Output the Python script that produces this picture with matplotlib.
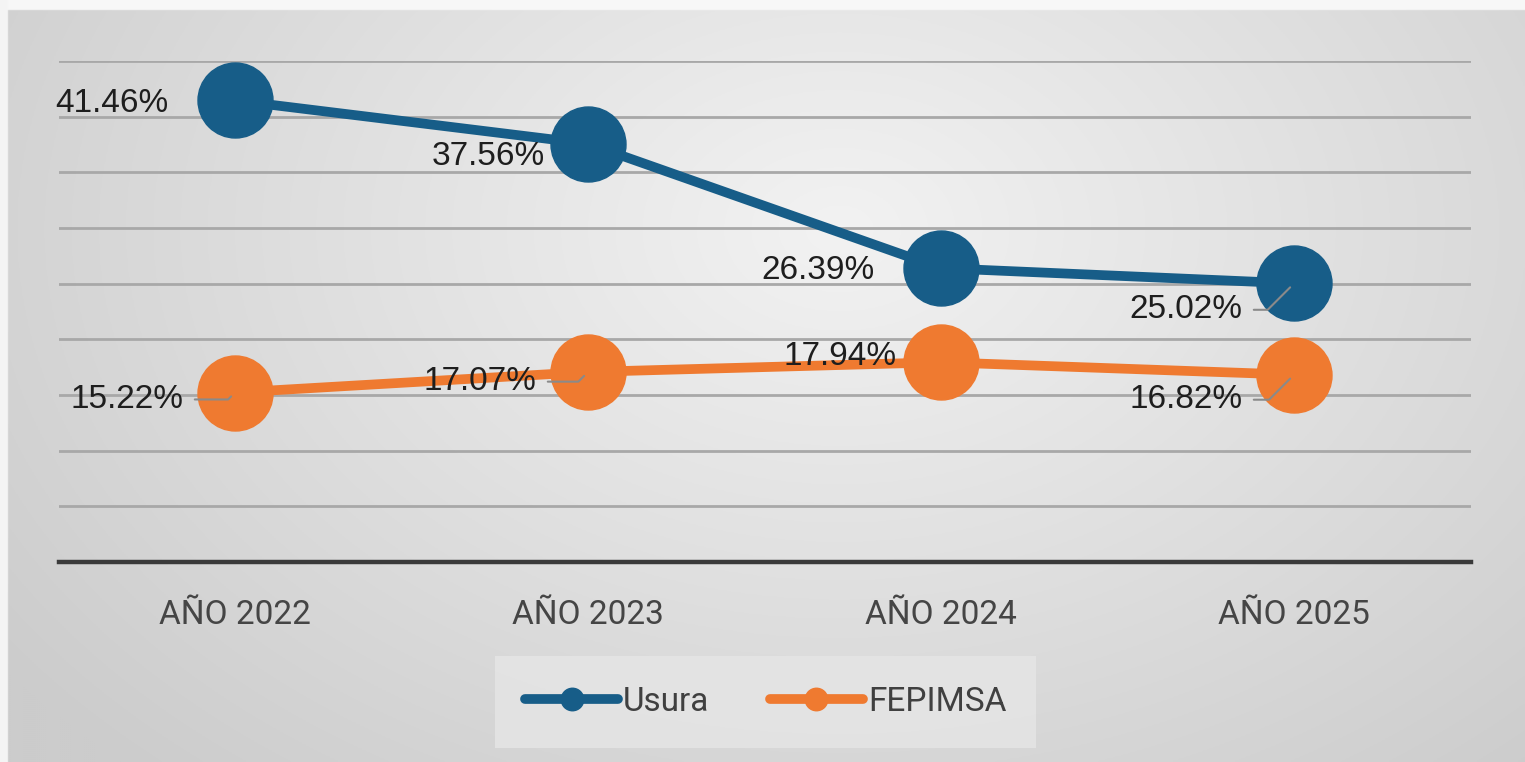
import numpy as np
import matplotlib
matplotlib.use("Agg")
import matplotlib.pyplot as plt

categories = ["AÑO 2022", "AÑO 2023", "AÑO 2024", "AÑO 2025"]
usura = [41.46, 37.56, 26.39, 25.02]
fepimsa = [15.22, 17.07, 17.94, 16.82]
usura_labels = ["41.46%", "37.56%", "26.39%", "25.02%"]
fepimsa_labels = ["15.22%", "17.07%", "17.94%", "16.82%"]

BLUE = "#175d88"
ORANGE = "#ef7a30"

fig = plt.figure(figsize=(15.25, 7.62), dpi=100)

# background gradient panel
bg = fig.add_axes([0, 0, 1, 1], zorder=-10)
h, w = 381, 762
yy, xx = np.mgrid[0:h, 0:w]
cx, cy = w * 0.55, h * 0.3
d = np.sqrt(((xx - cx) / w) ** 2 + ((yy - cy) / h) ** 2 * 0.5)
val = 0.95 - 0.22 * d
val = np.clip(val, 0.8, 0.95)
img = np.dstack([val, val, val])
img[:5, :, :] = 0.97
img[:, :4, :] = 0.96
bg.imshow(img, aspect="auto", extent=[0, 1, 0, 1], origin="upper")
bg.set_xlim(0, 1)
bg.set_ylim(0, 1)
bg.axis("off")

ax = fig.add_axes([0.0384, 0.2625, 0.9259, 0.6575])
ax.patch.set_alpha(0)
x = np.arange(len(categories))

ax.plot(x, usura, color=BLUE, lw=7, marker="o", ms=54, solid_capstyle="round",
        label="Usura", zorder=3)
ax.plot(x, fepimsa, color=ORANGE, lw=7, marker="o", ms=54, solid_capstyle="round",
        label="FEPIMSA", zorder=3)

ax.set_xlim(-0.5, 3.5)
ax.set_ylim(0, 45)
ax.set_yticks(np.arange(5, 46, 5))
ax.yaxis.grid(True, color="#a8a8a8", lw=2)
ax.set_axisbelow(True)
for s in ["top", "right", "left"]:
    ax.spines[s].set_visible(False)
ax.spines["bottom"].set_color("#3a3a3a")
ax.spines["bottom"].set_linewidth(3.2)
ax.tick_params(axis="y", left=False, labelleft=False)
ax.tick_params(axis="x", bottom=False, pad=23)
ax.set_xticks(x)
ax.set_xticklabels(categories, fontsize=24, color="#454545", family="Roboto")

lab_font = dict(fontsize=24, color="#1e1e1e", family="Liberation Sans",
                ha="right", va="center")
usura_off = [(-48, -2), (-31, -9), (-48, -2), (-37, -19)]
fep_off = [(-37, -5), (-37, -7), (-32, 4), (-37, -18)]
usura_lead = [False, False, False, True]
fep_lead = [True, True, False, True]


def label(xi, yi, txt, off, lead):
    ax.annotate(txt, (xi, yi), xytext=off, textcoords="offset points", zorder=5,
                **lab_font)
    if lead:
        ax.annotate("", (xi, yi), xytext=(off[0] + 8, off[1]),
                    textcoords="offset points", zorder=4,
                    arrowprops=dict(arrowstyle="-", color="#8a8a8a", lw=1.5,
                                    shrinkA=0, shrinkB=4,
                                    connectionstyle="angle,angleA=0,angleB=45,rad=0"))


for i in range(len(categories)):
    label(x[i], usura[i], usura_labels[i], usura_off[i], usura_lead[i])
    label(x[i], fepimsa[i], fepimsa_labels[i], fep_off[i], fep_lead[i])

leg = fig.legend(loc="center", bbox_to_anchor=(0.502, 0.079), ncol=2, frameon=True,
                 markerscale=0.3, handlelength=2.8, columnspacing=1.8,
                 handletextpad=0.15, prop=dict(family="Roboto", size=24))
leg.get_frame().set_facecolor("#e6e6e6")
leg.get_frame().set_edgecolor("none")
leg.get_frame().set_boxstyle("square", pad=0.5)
for t in leg.get_texts():
    t.set_color("#404040")

fig.savefig("out.png", dpi=100)
